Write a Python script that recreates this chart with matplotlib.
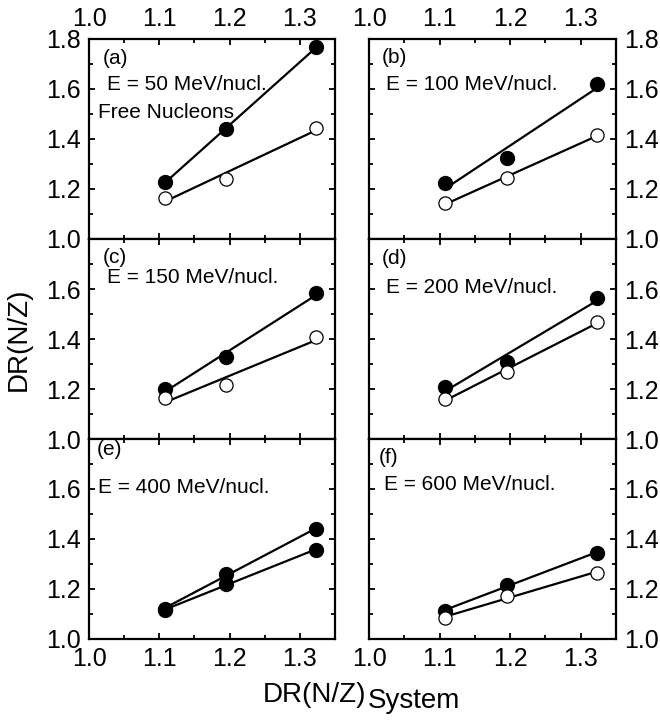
import numpy as np
import matplotlib
matplotlib.use("Agg")
import matplotlib.pyplot as plt
from matplotlib.ticker import MultipleLocator, FormatStrFormatter

plt.rcParams['font.family'] = ['Liberation Sans', 'DejaVu Sans']

# DR(N/Z) of the three systems
x_sys = [1.108, 1.195, 1.323]

panel_tags = ['(a)', '(b)', '(c)', '(d)', '(e)', '(f)']
energies = [50, 100, 150, 200, 400, 600]

# upper series (filled) and lower series (open, filled in panel e)
dr_upper = [
    [1.227, 1.44, 1.767],
    [1.225, 1.325, 1.62],
    [1.20, 1.327, 1.583],
    [1.209, 1.309, 1.565],
    [1.12, 1.26, 1.44],
    [1.113, 1.216, 1.345],
]
dr_lower = [
    [1.165, 1.24, 1.445],
    [1.143, 1.243, 1.415],
    [1.165, 1.216, 1.408],
    [1.16, 1.269, 1.467],
    [1.115, 1.22, 1.357],
    [1.083, 1.173, 1.265],
]
lower_filled = [False, False, False, False, True, False]

W, H = 660, 720
fig = plt.figure(figsize=(W / 100, H / 100), dpi=100)

lefts = [89, 369]
widths = [246, 247]
tops = [39, 239, 439]
ph = 200

label_xy = [(0.057, 0.90), (0.053, 0.905), (0.057, 0.91),
            (0.053, 0.905), (0.033, 0.945), (0.040, 0.905)]
e_xy = [(0.073, 0.77), (0.069, 0.77), (0.073, 0.81),
        (0.07, 0.76), (0.037, 0.755), (0.06, 0.77)]

for k in range(6):
    r, c = divmod(k, 2)
    ax = fig.add_axes([lefts[c] / W, 1 - (tops[r] + ph) / H, widths[c] / W, ph / H])
    ax.set_xlim(1.0, 1.35)
    ax.set_ylim(1.0, 1.8)

    xs = np.array(x_sys)
    for ys, filled in ((dr_upper[k], True), (dr_lower[k], lower_filled[k])):
        ys = np.array(ys)
        p = np.polyfit(xs, ys, 1)
        ax.plot(xs, np.polyval(p, xs), color='black', lw=1.6, zorder=2)
        if filled:
            ax.plot(xs, ys, 'o', ms=10, mfc='black', mec='black', zorder=3)
        else:
            ax.plot(xs, ys, 'o', ms=9.5, mfc='white', mec='black', mew=0.9, zorder=3)

    ax.xaxis.set_major_locator(MultipleLocator(0.1))
    ax.xaxis.set_minor_locator(MultipleLocator(0.05))
    ax.yaxis.set_minor_locator(MultipleLocator(0.1))
    if r == 0:
        ax.set_yticks([1.0, 1.2, 1.4, 1.6, 1.8])
    else:
        ax.set_yticks([1.0, 1.2, 1.4, 1.6])
    ax.xaxis.set_major_formatter(FormatStrFormatter('%.1f'))
    ax.yaxis.set_major_formatter(FormatStrFormatter('%.1f'))

    ax.tick_params(which='both', direction='in', top=True, bottom=True,
                   left=True, right=True, width=1.3, labelsize=18, pad=6)
    ax.tick_params(which='major', length=4.5)
    ax.tick_params(which='minor', length=3)
    ax.tick_params(axis='x', labeltop=(r == 0), labelbottom=(r == 2))
    ax.tick_params(axis='y', labelleft=(c == 0), labelright=(c == 1))
    for s in ax.spines.values():
        s.set_linewidth(1.6)

    tx, ty = label_xy[k]
    ax.text(tx, ty, panel_tags[k], transform=ax.transAxes, fontsize=15,
            va='center', ha='left')
    ex, ey = e_xy[k]
    ax.text(ex, ey, f'E = {energies[k]} MeV/nucl.', transform=ax.transAxes,
            fontsize=15, va='center', ha='left')
    if k == 0:
        ax.text(0.037, 0.63, 'Free Nucleons', transform=ax.transAxes,
                fontsize=15, va='center', ha='left')

# axis labels
fig.text(263 / W, 1 - 702 / H, 'DR(N/Z)', fontsize=20, ha='left', va='baseline')
fig.text(368 / W, 1 - 708 / H, 'System', fontsize=20, ha='left', va='baseline')
fig.text(19 / W, 1 - 339 / H, 'DR(N/Z)', fontsize=20, rotation=90,
         ha='center', va='center')

fig.savefig('out.png', dpi=100)
